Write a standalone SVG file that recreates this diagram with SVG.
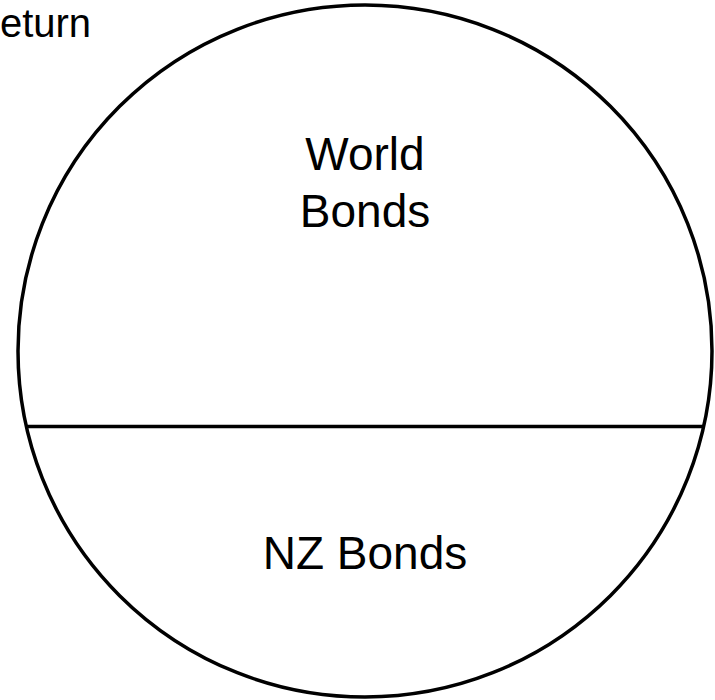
<svg xmlns="http://www.w3.org/2000/svg" width="715" height="700" viewBox="0 0 715 700">
<style>
text{font-family:"Liberation Sans",Arial,sans-serif;fill:#000}
.lbl{font-size:46px;text-anchor:middle}
</style>
<defs>
<filter id="sh" x="-5%" y="-200%" width="110%" height="600%">
<feGaussianBlur stdDeviation="2.5"/>
</filter>
</defs>
<rect width="715" height="700" fill="#fff"/>
<text x="-29" y="37" style="font-size:40px">Return</text>
<g id="circle">
<ellipse cx="365" cy="351" rx="347" ry="346" fill="none" stroke="#000" stroke-width="3.5"/>
</g>
<g id="connectors">
<line x1="28" y1="430" x2="702" y2="430" stroke="#888" stroke-width="3" filter="url(#sh)"/>
<line x1="27" y1="426.5" x2="703" y2="426.5" stroke="#000" stroke-width="3.5"/>
</g>
<g id="world">
<text class="lbl" x="365" y="170">World</text>
<text class="lbl" x="365" y="227">Bonds</text>
</g>
<g id="nz">
<text class="lbl" x="365" y="569">NZ Bonds</text>
</g>
</svg>
